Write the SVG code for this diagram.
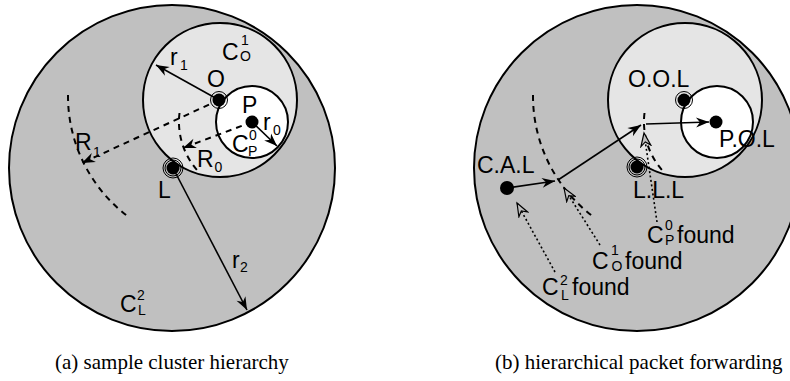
<svg xmlns="http://www.w3.org/2000/svg" width="790" height="381" viewBox="0 0 790 381">
<style>
.c2{fill:#c0c0c0;stroke:#000;stroke-width:2}
.c1{fill:#e5e5e5;stroke:#000;stroke-width:2}
.c0{fill:#fff;stroke:#000;stroke-width:2}
.lbl{font-family:"Liberation Sans",Arial,sans-serif;font-size:23px;fill:#000}
.s{font-size:14px}
.cap{font-family:"Liberation Serif","Times New Roman",serif;font-size:21px;fill:#000}
.ring{fill:none;stroke:#000;stroke-width:1}
.solid{fill:none;stroke:#000;stroke-width:1.6}
.dash{fill:none;stroke:#000;stroke-width:2;stroke-dasharray:6 5}
.dot{fill:none;stroke:#000;stroke-width:1.6;stroke-dasharray:2 2.5}
</style>
<defs>
<marker id="ah" markerUnits="userSpaceOnUse" markerWidth="16" markerHeight="12" refX="0" refY="0" viewBox="-14 -6 16 12" orient="auto">
<path d="M0,0 L-13,-5 L-9,0 L-13,5 Z" fill="#000"/>
</marker>
<marker id="ao" markerUnits="userSpaceOnUse" markerWidth="16" markerHeight="12" refX="0" refY="0" viewBox="-14 -6 16 12" orient="auto">
<path d="M0,0 L-13,-5 L-9,0 L-13,5 Z" fill="#c0c0c0" stroke="#000" stroke-width="1.2"/>
</marker>
</defs>

<g id="panel-a">
<g id="cluster-L2-a"><circle class="c2" cx="172" cy="168" r="163"/></g>
<g id="cluster-O1-a"><circle class="c1" cx="220" cy="100" r="77"/></g>
<g id="cluster-P0-a"><circle class="c0" cx="252" cy="122" r="36"/></g>
</g>
<g id="panel-b">
<g id="cluster-L2-b"><circle class="c2" cx="637" cy="168" r="163"/></g>
<g id="cluster-O1-b"><circle class="c1" cx="685" cy="100" r="77"/></g>
<g id="cluster-P0-b"><circle class="c0" cx="717" cy="122" r="36"/></g>
</g>

<g id="connectors">
<!-- panel a -->
<path class="solid" d="M219,100 L156,65" marker-end="url(#ah)"/>
<path class="solid" d="M252,122 L277,146" marker-end="url(#ah)"/>
<path class="solid" d="M173,168 L247,310" marker-end="url(#ah)"/>
<path class="dash" d="M219,100 L82,163" marker-end="url(#ah)"/>
<path class="dash" d="M252,122 L183,148" marker-end="url(#ah)"/>
<path class="dash" d="M68,95 A151,151 0 0 0 130,218"/>
<path class="dash" d="M179.5,113 A73,73 0 0 0 199.5,172.7"/>
<!-- panel b -->
<path class="dash" d="M533,95 A151,151 0 0 0 595,218"/>
<path class="dash" d="M644.5,113 A73,73 0 0 0 664.5,172.7"/>
<path class="solid" d="M507,188 L555,181" marker-end="url(#ah)"/>
<path class="solid" d="M558,180 L641,125" marker-end="url(#ah)"/>
<path class="solid" d="M646,124 L709,122" marker-end="url(#ah)"/>
<path class="dot" d="M555,272 L517,203" marker-end="url(#ao)"/>
<path class="dot" d="M600,245 L564,188" marker-end="url(#ao)"/>
<path class="dot" d="M657,222 L644,133" marker-end="url(#ao)"/>
</g>

<g id="node-O">
<circle class="ring" cx="219" cy="100" r="8.5"/><circle cx="219" cy="100" r="6.5"/>
<text class="lbl" x="207" y="87">O</text>
</g>
<g id="node-P">
<circle cx="252" cy="122" r="6.5"/>
<text class="lbl" x="242" y="113">P</text>
</g>
<g id="node-L">
<circle class="ring" cx="173" cy="168" r="10"/><circle class="ring" cx="173" cy="168" r="8"/><circle cx="173" cy="168" r="6.5"/>
<text class="lbl" x="158" y="198">L</text>
</g>
<g id="labels-a">
<text class="lbl" x="222" y="60">C</text><text class="lbl s" x="241" y="45">1</text><text class="lbl s" x="240" y="61">O</text>
<text class="lbl" x="170" y="65">r</text><text class="lbl s" x="180" y="70">1</text>
<text class="lbl" x="263" y="130">r</text><text class="lbl s" x="273" y="135">0</text>
<text class="lbl" x="232" y="152">C</text><text class="lbl s" x="249" y="140">0</text><text class="lbl s" x="248" y="156">P</text>
<text class="lbl" x="197" y="167">R</text><text class="lbl s" x="214.5" y="172">0</text>
<text class="lbl" x="75" y="150">R</text><text class="lbl s" x="93" y="157">1</text>
<text class="lbl" x="232" y="268">r</text><text class="lbl s" x="240" y="272">2</text>
<text class="lbl" x="120" y="312">C</text><text class="lbl s" x="137" y="300">2</text><text class="lbl s" x="138" y="315">L</text>
</g>

<g id="node-OOL">
<circle class="ring" cx="684" cy="100" r="8.5"/><circle cx="684" cy="100" r="6.5"/>
<text class="lbl" x="628" y="87">O.O.L</text>
</g>
<g id="node-POL">
<circle cx="716" cy="122" r="6.5"/>
<text class="lbl" x="719" y="147">P.O.L</text>
</g>
<g id="node-LLL">
<circle class="ring" cx="637" cy="167" r="10"/><circle class="ring" cx="637" cy="167" r="8"/><circle cx="637" cy="167" r="6.5"/>
<text class="lbl" x="633" y="198">L.L.L</text>
</g>
<g id="node-CAL">
<circle cx="507" cy="188" r="7"/>
<text class="lbl" x="477" y="173">C.A.L</text>
</g>
<g id="labels-b">
<text class="lbl" x="647" y="243">C</text><text class="lbl s" x="665" y="230">0</text><text class="lbl s" x="665" y="245">P</text><text class="lbl" x="677" y="243">found</text>
<text class="lbl" x="592" y="269">C</text><text class="lbl s" x="611" y="255">1</text><text class="lbl s" x="611.5" y="270.5">O</text><text class="lbl" x="625" y="269">found</text>
<text class="lbl" x="542" y="295">C</text><text class="lbl s" x="560" y="285">2</text><text class="lbl s" x="561" y="300">L</text><text class="lbl" x="572" y="295">found</text>
</g>

<text class="cap" x="55" y="369">(a) sample cluster hierarchy</text>
<text class="cap" x="495" y="369">(b) hierarchical packet forwarding</text>
</svg>
